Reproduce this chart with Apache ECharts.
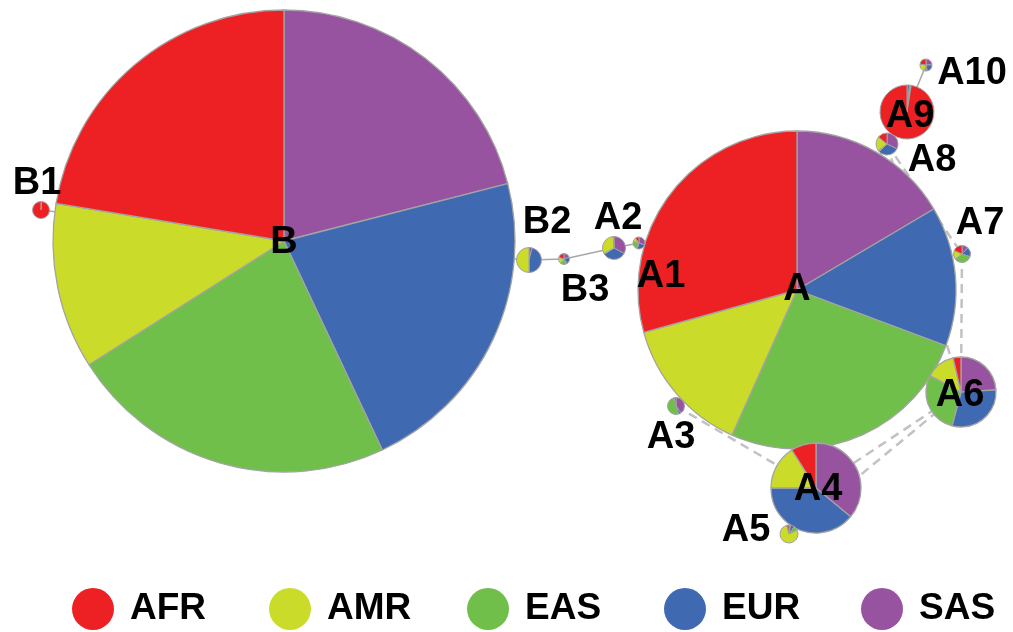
<!DOCTYPE html>
<html>
<head>
<meta charset="utf-8">
<script src="https://cdn.jsdelivr.net/npm/echarts@6/dist/echarts.min.js"></script>
<style>
  html, body { margin: 0; padding: 0; background: #fff; }
  #chart { width: 1013px; height: 632px; }
</style>
</head>
<body>
<div id="chart"></div>
<script>
// Haplotype network: node layout, node size and population share (%) per node
const nodes = ['B', 'A', 'B1', 'B2', 'B3', 'A1', 'A2', 'A3', 'A4', 'A5', 'A6', 'A7', 'A8', 'A9', 'A10'];
const nodeX = [284, 797, 41, 529, 564, 639, 614, 676, 816, 789, 961, 962, 887, 907, 926];
const nodeY = [241, 290, 210, 260, 259, 243, 248, 406, 488, 534, 392, 254, 144, 112, 65];
const nodeR = [231, 159, 8.5, 12.5, 5.5, 6, 11.5, 8.5, 45, 9, 35, 8.5, 11, 27, 6];

const populations = ['AFR', 'AMR', 'EAS', 'EUR', 'SAS'];
const AFR = [22.4, 29.3, 99, 0, 20, 10, 1, 3, 9, 4, 3.6, 18, 14, 97.5, 23];
const AMR = [11.6, 14.0, 0, 50, 20, 10, 32, 0, 16, 78, 13.6, 17, 21, 0, 22];
const EAS = [23.0, 26.0, 0, 0, 20, 25, 1, 52, 0, 8, 28.6, 34, 2, 1, 8];
const EUR = [22.0, 14.2, 1, 46, 20, 25, 33, 5, 39, 7, 30.0, 18, 30, 1.5, 22];
const SAS = [21.0, 16.5, 0, 4, 20, 30, 33, 40, 36, 3, 24.0, 12, 32, 0, 25];

const solidEdges = [['B', 'B1'], ['B', 'B2'], ['B2', 'B3'], ['B3', 'A2'], ['A2', 'A1'], ['A1', 'A'],
  ['A9', 'A10'], ['A9', 'A8'], ['A8', 'A'], ['A4', 'A5']];
const dashedEdges = [['A3', 'A4'], ['A', 'A4'], ['A', 'A5'], ['A6', 'A4'], ['A6', 'A5'], ['A7', 'A6'],
  ['A8', 'A7'], ['A8', 'A6'], ['A', 'A6']];

// label placement relative to each node (styling, in px)
const labelOffset = {
  B: [0, 2], A: [0, 0], B1: [-4, -26], B2: [18, -37], B3: [21, 32], A1: [22, 34], A2: [4, -29],
  A3: [-5, 32], A4: [2, 2], A5: [-43, -3], A6: [-1, 4], A7: [18, -30], A8: [45, 17], A9: [3, 5], A10: [46, 9]
};

const colors = { AFR: '#ed2124', AMR: '#cbdb2a', EAS: '#71bf4b', EUR: '#3f6ab2', SAS: '#9752a0' };
const shares = { AFR, AMR, EAS, EUR, SAS };
// clockwise from 12 o'clock
const sliceOrder = ['SAS', 'EUR', 'EAS', 'AMR', 'AFR'];
const legendLeft = [72, 269, 467, 664, 861];
const FONT = '"Liberation Sans", Arial, Helvetica, sans-serif';

const idx = name => nodes.indexOf(name);
const edgeData = list => list.map(([a, b]) => ({
  coords: [[nodeX[idx(a)], nodeY[idx(a)]], [nodeX[idx(b)], nodeY[idx(b)]]]
}));

const chart = echarts.init(document.getElementById('chart'), null, { renderer: 'canvas' });

const baseOption = {
  animation: false,
  backgroundColor: '#ffffff',
  grid: { left: 0, right: 0, top: 0, bottom: 0 },
  xAxis: { type: 'value', min: 0, max: 1013, show: false },
  yAxis: { type: 'value', min: 0, max: 632, inverse: true, show: false },
  legend: populations.map((p, i) => ({
    data: [p],
    left: legendLeft[i],
    top: 588,
    padding: 0,
    icon: 'circle',
    itemWidth: 42,
    itemHeight: 42,
    selectedMode: false,
    itemStyle: { borderWidth: 0 },
    textStyle: { fontSize: 37, fontWeight: 'bold', fontFamily: FONT, color: '#000', padding: [0, 0, 0, 11] }
  })),
  series: [
    {
      type: 'lines', coordinateSystem: 'cartesian2d', z: 1, silent: true,
      lineStyle: { color: '#a8a8a8', width: 1.5, opacity: 1 },
      data: edgeData(solidEdges)
    },
    {
      type: 'lines', coordinateSystem: 'cartesian2d', z: 1, silent: true,
      lineStyle: { color: '#c2c2c2', width: 2.5, type: [9, 6], opacity: 1 },
      data: edgeData(dashedEdges)
    },
    {
      type: 'scatter', z: 20, silent: true, symbolSize: 0,
      itemStyle: { opacity: 1 },
      data: nodes.map((n, i) => ({
        value: [nodeX[i], nodeY[i]],
        label: { offset: labelOffset[n] }
      })),
      label: {
        show: true, position: 'inside', opacity: 1,
        formatter: p => nodes[p.dataIndex],
        fontSize: 38, fontWeight: 'bold', fontFamily: FONT,
        color: '#000000', textBorderWidth: 0, textShadowBlur: 0
      }
    }
  ]
};
chart.setOption(baseOption);

// one pie per node, placed through the grid's scales
const pieDrawOrder = ['B', 'A', 'A4', 'A6', 'A3', 'A5', 'A7', 'A9', 'A8', 'A10', 'A1', 'A2', 'B1', 'B2', 'B3'];
const pies = pieDrawOrder.map(n => {
  const i = idx(n);
  const c = chart.convertToPixel({ gridIndex: 0 }, [nodeX[i], nodeY[i]]);
  const e = chart.convertToPixel({ gridIndex: 0 }, [nodeX[i] + nodeR[i], nodeY[i]]);
  const r = e[0] - c[0];
  return {
    type: 'pie', name: n, z: 5, silent: true,
    center: c, radius: [0, r],
    startAngle: 90, clockwise: true,
    label: { show: false }, labelLine: { show: false },
    emphasis: { disabled: true },
    itemStyle: { borderColor: '#a3a3a3', borderWidth: r > 30 ? 1.3 : 1 },
    data: sliceOrder.filter(p => shares[p][i] > 0).map(p => ({
      name: p, value: shares[p][i], itemStyle: { color: colors[p] }
    }))
  };
});

chart.setOption({ color: sliceOrder.map(p => colors[p]), series: baseOption.series.concat(pies) });
</script>
</body>
</html>
